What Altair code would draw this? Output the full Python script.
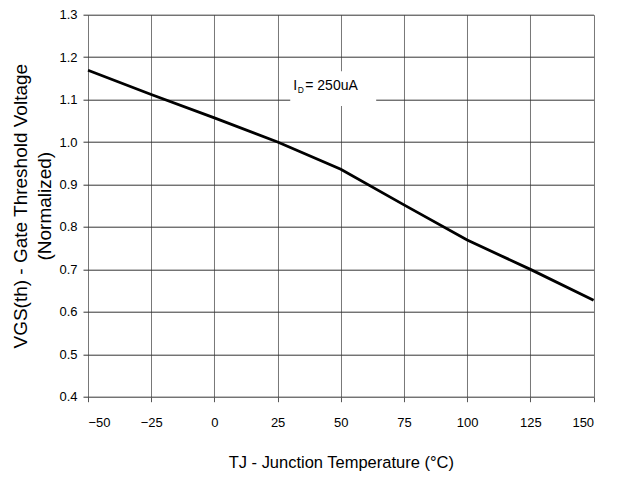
import altair as alt
import pandas as pd

# Curve
temps = [-50, -25, 0, 25, 50, 75, 100, 125, 150]
vgs = [1.169, 1.112, 1.057, 1.000, 0.936, 0.852, 0.769, 0.700, 0.627]

x_ticks = [-50, -25, 0, 25, 50, 75, 100, 125, 150]
y_ticks = [0.4, 0.5, 0.6, 0.7, 0.8, 0.9, 1.0, 1.1, 1.2, 1.3]

df = pd.DataFrame({"temp": temps, "vgs": vgs})

# annotation box & label (data coords)
box = pd.DataFrame({"temp": [30], "temp_end": [64], "vgs": [1.085], "vgs_end": [1.167]})
lab = pd.DataFrame({"temp": [31.2], "vgs": [1.132]})

FONT = "Liberation Sans, Arial, Helvetica"

xs = alt.Scale(domain=[-50, 150], nice=False)
ys = alt.Scale(domain=[0.4, 1.3], nice=False, zero=False)

x_axis = alt.Axis(
    values=x_ticks, title="TJ - Junction Temperature (°C)", format="d",
    gridColor="#777", tickColor="#555", titleY=66, titleBaseline="middle",
    titleFontSize=16.5, labelPadding=15)
y_axis = alt.Axis(
    values=y_ticks, format=".1f",
    title=["VGS(th) - Gate Threshold Voltage", "(Normalized)"],
    gridColor="#333", tickColor="#333", titleX=-68, titleY=191,
    titleAlign="center", titleBaseline="middle", titleAngle=270,
    titleFontSize=19, titleLineHeight=25, labelPadding=6)

X = alt.X("temp:Q", scale=xs, axis=x_axis)
Y = alt.Y("vgs:Q", scale=ys, axis=y_axis)

line = alt.Chart(df).mark_line(color="black", strokeWidth=2.8).encode(x=X, y=Y)

rect = alt.Chart(box).mark_rect(color="white").encode(
    x=X, x2="temp_end:Q", y=Y, y2="vgs_end:Q",
)

t_base = alt.Chart(lab).encode(x=X, y=Y)
t1 = t_base.mark_text(text="I", align="left", baseline="middle", font=FONT, fontSize=14, color="black")
t2 = t_base.mark_text(text="D", align="left", baseline="middle", font=FONT, fontSize=8.5, dx=4.5, dy=4, color="black")
t3 = t_base.mark_text(text="= 250uA", align="left", baseline="middle", font=FONT, fontSize=14, dx=12, color="black")

chart = alt.layer(line, rect, t1, t2, t3).properties(
    width=505.6, height=382,
    autosize=alt.AutoSizeParams(type="none"),
    padding={"left": 80, "top": 6.7, "right": 20, "bottom": 80},
).configure_view(stroke=None).configure_axis(
    domain=False, tickSize=5, labelFont=FONT, labelFontSize=13, labelColor="black",
    titleFont=FONT, titleFontWeight="normal", titleColor="black",
    gridOpacity=1, gridWidth=1, tickWidth=1,
)

chart.save("out.html", embed_options={"renderer": "svg", "actions": False})
